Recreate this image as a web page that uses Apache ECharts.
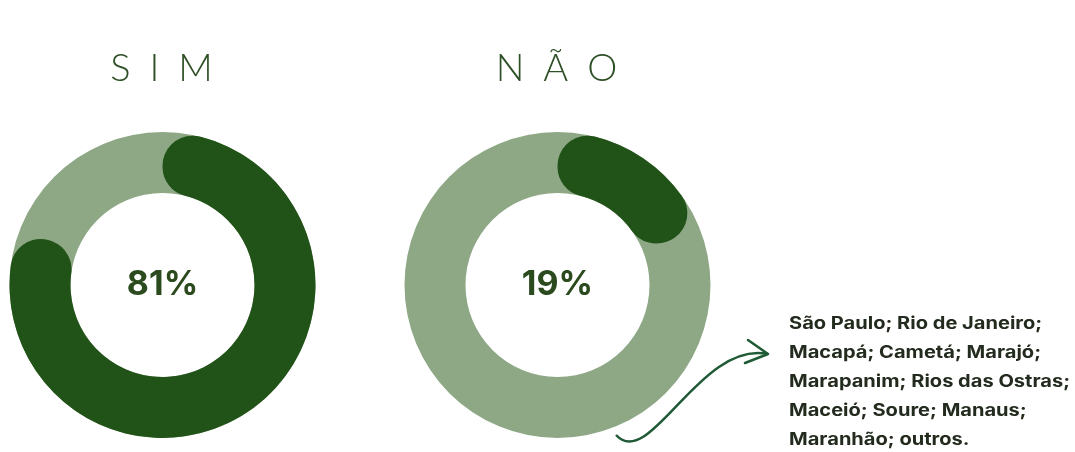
<!DOCTYPE html>
<html>
<head>
<meta charset="utf-8">
<script src="https://cdn.jsdelivr.net/npm/echarts@6/dist/echarts.min.js"></script>
<style>
html,body{margin:0;padding:0;background:#fff;}
#chart{width:1075px;height:452px;}
</style>
</head>
<body>
<div id="chart"></div>
<script>
const categories = ['SIM', 'NÃO'];
const values = [81, 19];
const cityLines = [
  'São Paulo; Rio de Janeiro;',
  'Macapá; Cametá; Marajó;',
  'Marapanim; Rios das Ostras;',
  'Maceió; Soure; Manaus;',
  'Maranhão; outros.'
];

const DARK = '#215217';
const LIGHT = '#8ea886';
const centers = [[162.5, 285], [557.5, 285]];
const radius = [92, 153];

const chart = echarts.init(document.getElementById('chart'), null, {renderer: 'canvas'});

const series = [];
const titles = [];
categories.forEach((cat, i) => {
  series.push({
    type: 'pie', silent: true, center: centers[i], radius: radius,
    label: {show: false}, labelLine: {show: false},
    itemStyle: {color: LIGHT},
    data: [{name: cat + ' base', value: 100}]
  });
  series.push({
    type: 'pie', silent: true, center: centers[i], radius: radius,
    startAngle: 90, clockwise: true,
    labelLine: {show: false},
    itemStyle: {borderRadius: 30},
    label: {
      show: true, position: 'center',
      formatter: p => p.dataIndex === 0 ? p.value + '%' : '',
      fontFamily: 'Inter', fontWeight: 'bold', fontSize: 34, color: '#2b4a1e'
    },
    data: [
      {name: cat, value: values[i], itemStyle: {color: DARK}},
      {name: cat + ' rest', value: 100 - values[i], itemStyle: {color: 'rgba(0,0,0,0)'}, label: {show: false}}
    ]
  });
  titles.push({
    text: cat.split('').join('\u2002'),
    left: centers[i][0] - 6, top: 45, textAlign: 'center',
    textStyle: {fontFamily: 'Lato', fontWeight: 300, fontSize: 38, color: '#2e5026'}
  });
});

chart.setOption({
  animation: false,
  title: titles,
  series: series,
  graphic: [
    {
      type: 'bezierCurve', silent: true,
      shape: {x1: 616, y1: 435, x2: 768, y2: 354, cpx1: 650, cpy1: 472, cpx2: 700, cpy2: 340},
      style: {stroke: '#1f5a36', lineWidth: 2.5, fill: null}
    },
    {
      type: 'polyline', silent: true,
      shape: {points: [[748, 340], [768, 354], [745, 363]]},
      style: {stroke: '#1f5a36', lineWidth: 2.5, fill: null, lineJoin: 'round', lineCap: 'round'}
    },
    {
      type: 'text', silent: true, x: 789, y: 309, scaleX: 1.18,
      style: {
        text: cityLines.join('\n'),
        fontFamily: 'Inter', fontWeight: 'bold', fontSize: 17, lineHeight: 29,
        fill: '#222b1d', verticalAlign: 'top', align: 'left'
      }
    }
  ]
});
</script>
</body>
</html>
